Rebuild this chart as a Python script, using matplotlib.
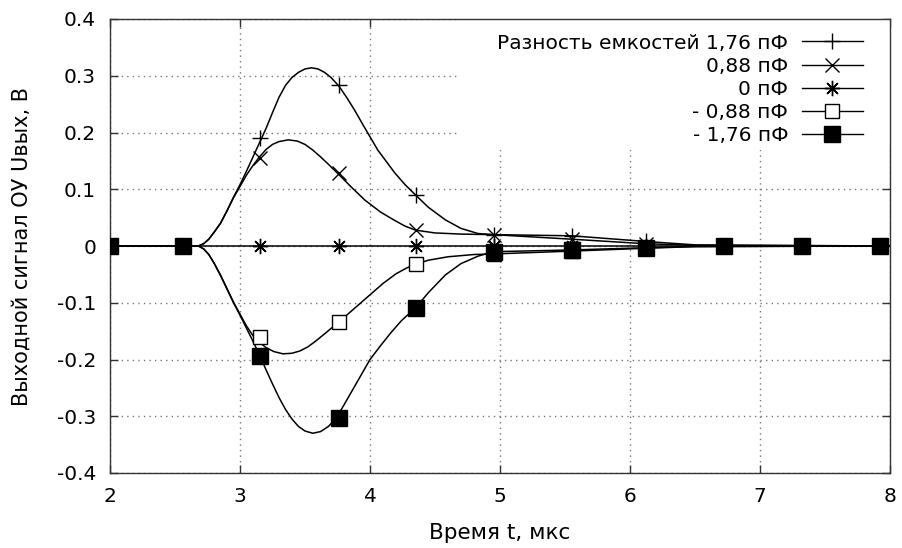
import numpy as np
import matplotlib
matplotlib.use('Agg')
import matplotlib.pyplot as plt
from matplotlib.lines import Line2D
from matplotlib.patches import Rectangle

plt.rcParams['font.family'] = ['DejaVu Sans']
plt.rcParams['axes.unicode_minus'] = False

# smooth curves
t176 = [2.0, 2.6, 2.68, 2.72, 2.76, 2.8, 2.85, 2.9, 2.95, 3.0, 3.05, 3.1, 3.15, 3.2, 3.25, 3.3, 3.35, 3.4,
        3.45, 3.5, 3.55, 3.6, 3.65, 3.7, 3.76, 3.82, 3.88, 3.95, 4.06, 4.19, 4.27, 4.35, 4.45, 4.58, 4.7,
        4.83, 4.95, 5.55, 6.12, 6.5, 8.0]
v176 = [0, 0, 0, 0.004, 0.012, 0.024, 0.04, 0.062, 0.086, 0.108, 0.132, 0.157, 0.182, 0.207, 0.235, 0.262,
        0.283, 0.297, 0.306, 0.312, 0.314, 0.312, 0.306, 0.297, 0.282, 0.262, 0.24, 0.212, 0.169, 0.129,
        0.108, 0.09, 0.068, 0.046, 0.031, 0.022, 0.02, 0.018, 0.008, 0.002, 0]

t088 = [2.0, 2.6, 2.68, 2.72, 2.76, 2.8, 2.85, 2.9, 2.95, 3.0, 3.05, 3.1, 3.15, 3.2, 3.25, 3.3, 3.37, 3.44,
        3.5, 3.56, 3.62, 3.68, 3.76, 3.86, 3.96, 4.08, 4.19, 4.27, 4.35, 4.5, 4.7, 4.95, 5.55, 6.12, 6.5, 8.0]
v088 = [0, 0, 0, 0.004, 0.012, 0.024, 0.04, 0.062, 0.085, 0.105, 0.125, 0.142, 0.157, 0.17, 0.179, 0.184,
        0.187, 0.185, 0.179, 0.169, 0.157, 0.144, 0.126, 0.103, 0.081, 0.06, 0.045, 0.035, 0.028, 0.023,
        0.021, 0.02, 0.012, 0.004, 0.001, 0]

t0 = [2.0, 8.0]
v0 = [0, 0]

tm088 = [2.0, 2.6, 2.68, 2.72, 2.76, 2.8, 2.85, 2.9, 2.95, 3.0, 3.05, 3.1, 3.15, 3.2, 3.26, 3.33, 3.4, 3.46,
         3.52, 3.58, 3.66, 3.76, 3.88, 4.0, 4.1, 4.2, 4.28, 4.35, 4.45, 4.6, 4.8, 4.95, 5.55, 6.12, 6.5, 8.0]
vm088 = [0, 0, 0, -0.005, -0.015, -0.03, -0.051, -0.075, -0.099, -0.12, -0.141, -0.158, -0.17, -0.179,
         -0.186, -0.19, -0.189, -0.185, -0.178, -0.168, -0.153, -0.134, -0.11, -0.086, -0.066, -0.049,
         -0.039, -0.032, -0.025, -0.019, -0.015, -0.014, -0.009, -0.004, -0.001, 0]

tm176 = [2.0, 2.6, 2.68, 2.72, 2.76, 2.8, 2.85, 2.9, 2.95, 3.0, 3.05, 3.1, 3.15, 3.2, 3.25, 3.3, 3.35, 3.4,
         3.45, 3.5, 3.56, 3.62, 3.68, 3.74, 3.8, 3.86, 3.92, 4.0, 4.08, 4.16, 4.24, 4.35, 4.45, 4.58, 4.7,
         4.83, 4.95, 5.55, 6.12, 6.5, 8.0]
vm176 = [0, 0, 0, -0.005, -0.015, -0.03, -0.052, -0.076, -0.1, -0.122, -0.145, -0.168, -0.192, -0.218,
         -0.243, -0.267, -0.288, -0.305, -0.318, -0.326, -0.33, -0.327, -0.318, -0.303, -0.28, -0.256,
         -0.232, -0.2, -0.176, -0.153, -0.132, -0.109, -0.082, -0.051, -0.031, -0.018, -0.01, -0.007,
         -0.003, -0.001, 0]

# marker points
mt = [2.0, 2.56, 3.15, 3.76, 4.35, 4.95, 5.55, 6.12, 6.72, 7.32, 7.92]
m176 = [0, 0, 0.19, 0.284, 0.09, 0.02, 0.018, 0.008, 0, 0, 0]
m088 = [0, 0, 0.155, 0.128, 0.028, 0.02, 0.012, 0.004, 0, 0, 0]
m0 = [0, 0, 0, 0, 0, 0, 0, 0, 0, 0, 0]
mm088 = [0, 0, -0.16, -0.134, -0.032, -0.014, -0.009, -0.004, 0, 0, 0]
mm176 = [0, 0, -0.194, -0.303, -0.109, -0.01, -0.007, -0.003, 0, 0, 0]

labels = ['Разность емкостей 1,76 пФ', '0,88 пФ', '0 пФ', '- 0,88 пФ', '- 1,76 пФ']
xticks = [2, 3, 4, 5, 6, 7, 8]
yticks = [-0.4, -0.3, -0.2, -0.1, 0, 0.1, 0.2, 0.3, 0.4]
yticklabels = ['-0.4', '-0.3', '-0.2', '-0.1', '0', '0.1', '0.2', '0.3', '0.4']

curves = [(t176, v176), (t088, v088), (t0, v0), (tm088, vm088), (tm176, vm176)]
points = [m176, m088, m0, mm088, mm176]
styles = [dict(marker='+', ms=11.5, mfc='none'),
          dict(marker='x', ms=10.5, mfc='none'),
          dict(marker=(8, 2, 0), ms=11, mfc='none'),
          dict(marker='s', ms=10.5, mfc='white'),
          dict(marker='s', ms=11.5, mfc='black')]

fig = plt.figure(figsize=(9.02, 5.48), dpi=100)
ax = fig.add_axes([110 / 902, 1 - 473 / 548, 780 / 902, 454 / 548])

ax.set_axisbelow(True)
ax.grid(True, linestyle=(0, (1, 3)), color='#777777', linewidth=1)
# white key area hiding the grid
ax.add_patch(Rectangle((0.449, 0.711), 0.551, 0.289, transform=ax.transAxes,
                       facecolor='white', edgecolor='none', zorder=1))

for (t, v) in curves:
    ax.plot(t, v, color='black', lw=1.1, zorder=2, solid_joinstyle='round')
for p, st in zip(points, styles):
    ax.plot(mt, p, linestyle='none', color='black', mec='black', mew=1, zorder=3, **st)

handles = [Line2D([], [], color='black', lw=1, mec='black', mew=1, **st) for st in styles]
ax.legend(handles, labels, loc='upper right', bbox_to_anchor=(0.965, 0.968), frameon=False,
          markerfirst=False, fontsize=14.5, handlelength=3.0, handletextpad=0.7,
          labelspacing=0.2, borderpad=0, borderaxespad=0)

ax.set_xlim(2, 8)
ax.set_ylim(-0.4, 0.4)
ax.set_xticks(xticks)
ax.set_yticks(yticks)
ax.set_yticklabels(yticklabels)
ax.tick_params(direction='in', length=6, width=1, top=True, right=True, labelsize=14.5, pad=10,
               color='#333333')
for s in ax.spines.values():
    s.set_color('#333333')
    s.set_linewidth(1)

ax.set_xlabel('Время t, мкс', fontsize=15.5, labelpad=12)
ax.set_ylabel('Выходной сигнал ОУ Uвых, В', fontsize=15, labelpad=18)

fig.savefig('out.png', dpi=100)
